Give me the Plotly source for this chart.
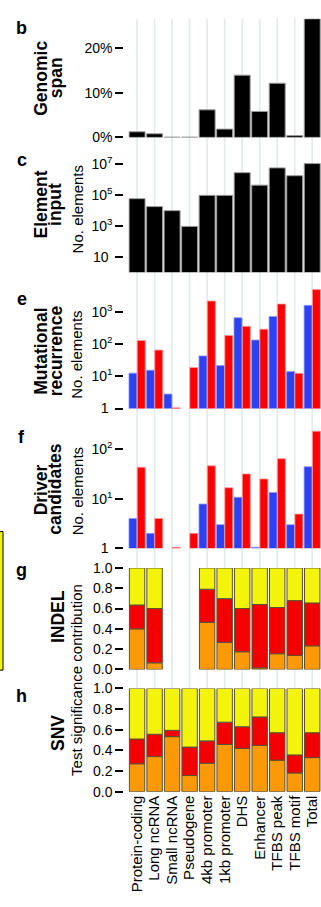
import plotly.graph_objects as go
import numpy as np

categories = ["Protein-coding", "Long ncRNA", "Small ncRNA", "Pseudogene", "4kb promoter",
              "1kb promoter", "DHS", "Enhancer", "TFBS peak", "TFBS motif", "Total"]

# b: genomic span (%)
genomic_span = [1.25, 0.8, 0.05, 0.05, 6.15, 1.85, 13.9, 5.8, 12.1, 0.4, 26.5]
span_ticks = [0, 10, 20]
span_ticktext = ["0%", "10%", "20%"]

# c: element input (number of elements)
element_input = [55000, 17000, 9300, 900, 90000, 90000, 2.6e6, 4.1e5, 5.3e6, 1.66e6, 1.0e7]
input_ticks = [10, 1e3, 1e5, 1e7]
input_ticktext = ["10 ", "10<sup>3</sup>", "10<sup>5</sup>", "10<sup>7</sup>"]

# e: mutational recurrence (blue / red)
recurrence_blue = [12.5, 15.5, 2.8, None, 43, 21.5, 655, 133, 720, 14, 1590]
recurrence_red = [130, 65, 1.05, 18.7, 2170, 185, 355, 290, 1750, 12.4, 4900]
recurrence_ticks = [1, 10, 100, 1000]
recurrence_ticktext = ["1 ", "10<sup>1</sup>", "10<sup>2</sup>", "10<sup>3</sup>"]

# f: driver candidates (blue / red)
driver_blue = [4.0, 2.0, None, None, 7.8, 3.0, 10.7, 1.05, 13.4, 3.0, 44]
driver_red = [43, 4.0, 1.05, 2.0, 46, 16.6, 31.6, 25, 64, 4.9, 230]
driver_ticks = [1, 10, 100]
driver_ticktext = ["1 ", "10<sup>1</sup>", "10<sup>2</sup>"]

# g: INDEL test significance contribution
indel_orange = [0.40, 0.065, None, None, 0.465, 0.267, 0.174, 0.015, 0.155, 0.138, 0.232]
indel_red = [0.235, 0.535, None, None, 0.325, 0.43, 0.426, 0.625, 0.455, 0.54, 0.423]
indel_yellow = [0.365, 0.40, None, None, 0.21, 0.303, 0.40, 0.36, 0.39, 0.322, 0.345]

# h: SNV test significance contribution
snv_orange = [0.27, 0.34, 0.533, 0.156, 0.276, 0.457, 0.419, 0.448, 0.305, 0.181, 0.33]
snv_red = [0.24, 0.216, 0.061, 0.276, 0.216, 0.216, 0.21, 0.276, 0.266, 0.175, 0.241]
snv_yellow = [0.49, 0.444, 0.406, 0.568, 0.508, 0.327, 0.371, 0.276, 0.429, 0.644, 0.429]

frac_ticks = [0, 0.2, 0.4, 0.6, 0.8, 1.0]
frac_ticktext = ["0.0", "0.2", "0.4", "0.6", "0.8", "1.0"]

W, H = 321, 907
FONT = "Liberation Sans, Arial, sans-serif"
BLUE = "#2c42f2"
RED = "#ff0000"
ORANGE = "#fb9a06"
YELLOW = "#f4f40a"
SRED = "#f40000"


def py(px):
    return 1 - px / H


def px_(x):
    return x / W


fig = go.Figure()

# panel b
fig.add_trace(go.Bar(x=categories, y=genomic_span, xaxis="x", yaxis="y",
                     marker=dict(color="black", line=dict(color="#9a9a9a", width=1))))
# panel c
fig.add_trace(go.Bar(x=categories, y=element_input, xaxis="x2", yaxis="y2",
                     marker=dict(color="black", line=dict(color="#9a9a9a", width=1))))
# panel e
fig.add_trace(go.Bar(x=categories, y=recurrence_blue, xaxis="x3", yaxis="y3",
                     marker=dict(color=BLUE, line=dict(color="#8d9bff", width=0.8))))
fig.add_trace(go.Bar(x=categories, y=recurrence_red, xaxis="x3", yaxis="y3",
                     marker=dict(color=RED, line=dict(color="#ff9a9a", width=0.8))))
# panel f
fig.add_trace(go.Bar(x=categories, y=driver_blue, xaxis="x4", yaxis="y4",
                     marker=dict(color=BLUE, line=dict(color="#8d9bff", width=0.8))))
fig.add_trace(go.Bar(x=categories, y=driver_red, xaxis="x4", yaxis="y4",
                     marker=dict(color=RED, line=dict(color="#ff9a9a", width=0.8))))


def stacked(orange, red, yellow, xa, ya, grp):
    o = np.array([np.nan if v is None else v for v in orange], dtype=float)
    r = np.array([np.nan if v is None else v for v in red], dtype=float)
    yv = np.array([np.nan if v is None else v for v in yellow], dtype=float)
    bases = [np.zeros_like(o), o, o + r]
    for vals, base, col in zip([o, r, yv], bases, [ORANGE, SRED, YELLOW]):
        fig.add_trace(go.Bar(x=categories, y=vals, base=base, xaxis=xa, yaxis=ya,
                             offsetgroup=grp, width=0.88,
                             marker=dict(color=col, line=dict(color="#5b5030", width=1))))


stacked(indel_orange, indel_red, indel_yellow, "x5", "y5", "g")
stacked(snv_orange, snv_red, snv_yellow, "x6", "y6", "h")

xdom = [px_(128.3), 1.0]
yaxis_pos = px_(123.3)

# panel pixel extents (top, bottom)
panels = {
    "": (11, 131.7),
    "2": (143, 269),
    "3": (283, 407.7),
    "4": (425, 550),
    "5": (570, 673.3),
    "6": (692.7, 797.7),
}

layout = dict(width=W, height=H, autosize=False, margin=dict(l=0, r=0, t=0, b=0),
              paper_bgcolor="white", plot_bgcolor="rgba(0,0,0,0)",
              showlegend=False, barmode="group", bargap=0.05, bargroupgap=0.04,
              font=dict(family=FONT, color="black", size=14))

tickcfg = dict(ticks="outside", ticklen=8, tickwidth=2, tickcolor="black",
               showgrid=False, zeroline=False, showline=False,
               tickfont=dict(family=FONT, size=14, color="black"), fixedrange=True)

ycfg = {
    "": dict(type="linear", range=[0, 26.5], tickvals=span_ticks, ticktext=span_ticktext),
    "2": dict(type="log", range=[0, (269 - 143) / 15.8], tickvals=input_ticks, ticktext=input_ticktext),
    "3": dict(type="log", range=[0, (407.7 - 283) / 32.8], tickvals=recurrence_ticks, ticktext=recurrence_ticktext),
    "4": dict(type="log", range=[0, (550 - 425) / 50.5], tickvals=driver_ticks, ticktext=driver_ticktext),
    "5": dict(type="linear", range=[0, 1], tickvals=frac_ticks, ticktext=frac_ticktext),
    "6": dict(type="linear", range=[0, 1], tickvals=frac_ticks, ticktext=frac_ticktext),
}

for k, (top, bot) in panels.items():
    layout["xaxis" + k] = dict(domain=xdom, anchor="y" + k, type="category",
                               categoryorder="array", categoryarray=categories,
                               range=[-0.5, len(categories) - 0.5],
                               tickmode="array", tickvals=categories, ticktext=categories,
                               showgrid=False, zeroline=False, showline=False,
                               ticks="", showticklabels=(k == "6"), fixedrange=True,
                               tickangle=-90,
                               tickfont=dict(family=FONT, size=15, color="black"))
    layout["yaxis" + k] = dict(domain=[py(bot), py(top)], anchor="free", position=yaxis_pos,
                               side="left", **ycfg[k], **tickcfg)

fig.update_layout(**layout)

# vertical gridlines through all panels
for i, c in enumerate(categories):
    fig.add_shape(type="line", xref="x6", yref="paper", x0=i, x1=i,
                  y0=py(797.7), y1=py(11), layer="below",
                  line=dict(color="#e4e9e9", width=1.6))

# clipped legend box on the left edge
fig.add_shape(type="rect", xref="paper", yref="paper", x0=-0.05, x1=px_(3),
              y0=py(674), y1=py(533), line=dict(color="black", width=1),
              fillcolor=YELLOW, layer="above")

# panel letters
letters = [("b", 20), ("c", 155), ("e", 296.7), ("f", 436.7), ("g", 572), ("h", 700)]
for t, yy in letters:
    fig.add_annotation(text="<b>%s</b>" % t, x=px_(22), y=py(yy), xref="paper", yref="paper",
                       xanchor="center", yanchor="middle", showarrow=False,
                       font=dict(family=FONT, size=18, color="black"))

# bold titles (two lines each, tight spacing)
titles = [
    (["Genomic", "span"], 71),
    (["Element", "input"], 200),
    (["Mutational", "recurrence"], 349),
    (["Driver", "candidates"], 490),
]
for lines, yc in titles:
    for j, ln in enumerate(lines):
        fig.add_annotation(text="<b>%s</b>" % ln, x=px_(41 + 14.5 * j), y=py(yc),
                           xref="paper", yref="paper", textangle=-90,
                           xanchor="center", yanchor="middle", showarrow=False,
                           font=dict(family=FONT, size=17.5, color="black"))

for ln, yc in [("INDEL", 620), ("SNV", 738)]:
    fig.add_annotation(text="<b>%s</b>" % ln, x=px_(58), y=py(yc),
                       xref="paper", yref="paper", textangle=-90,
                       xanchor="center", yanchor="middle", showarrow=False,
                       font=dict(family=FONT, size=17.5, color="black"))

# subtitles
for ln, yc in [("No. elements", 205), ("No. elements", 353), ("No. elements", 492),
               ("Test significance contribution", 684)]:
    fig.add_annotation(text=ln, x=px_(77), y=py(yc),
                       xref="paper", yref="paper", textangle=-90,
                       xanchor="center", yanchor="middle", showarrow=False,
                       font=dict(family=FONT, size=15, color="black"))

fig.write_html("out.html", config={"displayModeBar": False},
               post_script="document.body.style.margin='0';")
